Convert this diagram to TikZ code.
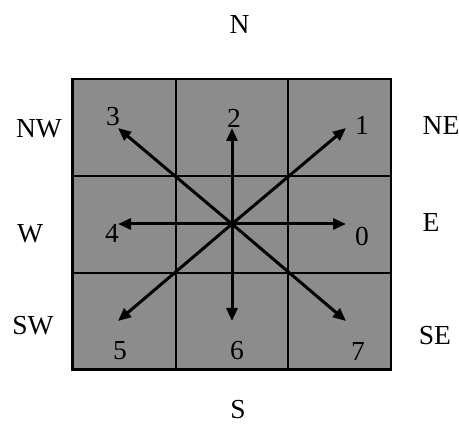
\documentclass[tikz,border=0pt]{standalone}
\usepackage{fontspec}
\setmainfont{Liberation Serif}
\usetikzlibrary{arrows.meta}
\begin{document}
\begin{tikzpicture}[x=1pt,y=-1pt,
  lbl/.style={inner sep=0pt,font=\fontsize{27.5}{30}\selectfont},
  grid/.style={line width=2pt,draw=black},
  dir/.style={line width=3pt,-{Triangle[length=13pt,width=11pt]},shorten <=-1pt}]
\useasboundingbox (0,0) rectangle (459,425);
\fill[fill={rgb,255:red,140;green,140;blue,140}] (72.7,79) rectangle (391,369.7);
\draw[grid] (175.7,79) -- (175.7,369.7);
\draw[grid] (288.3,79) -- (288.3,369.7);
\draw[grid] (72.7,175.7) -- (391,175.7);
\draw[grid] (72.7,272.7) -- (391,272.7);
\draw[line width=2.5pt] (72.7,79) rectangle (391,369.7);
\coordinate (c) at (232,224);
\coordinate (t0) at (346,224);
\coordinate (t1) at (346,128);
\coordinate (t2) at (232,128);
\coordinate (t3) at (118,128);
\coordinate (t4) at (118,224);
\coordinate (t5) at (118,321);
\coordinate (t6) at (232,321);
\coordinate (t7) at (346,321);
\foreach \i in {0,...,7} \draw[dir] (c) -- (t\i);
\node[lbl] (n0) at (362,236) {0};
\node[lbl] (n1) at (362,125) {1};
\node[lbl] (n2) at (234,118) {2};
\node[lbl] (n3) at (113,117) {3};
\node[lbl] (n4) at (112,233) {4};
\node[lbl] (n5) at (120,351) {5};
\node[lbl] (n6) at (237,351) {6};
\node[lbl] (n7) at (358,351) {7};
\node[lbl] (N) at (239.5,24) {N};
\node[lbl] (S) at (238,410) {S};
\node[lbl] (NW) at (39,129) {NW};
\node[lbl] (W) at (30,234) {W};
\node[lbl] (SW) at (33,326) {SW};
\node[lbl] (NE) at (441,125) {NE};
\node[lbl] (E) at (431,222) {E};
\node[lbl] (SE) at (435,336) {SE};
\end{tikzpicture}
\end{document}
